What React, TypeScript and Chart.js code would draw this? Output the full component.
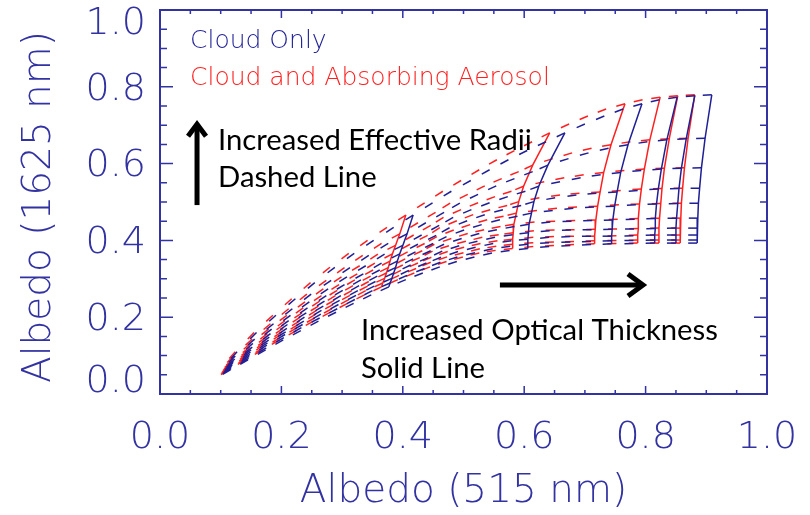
import React, { useEffect, useRef } from "react";
import { Chart, registerables } from "chart.js";

Chart.register(...registerables);

// Look-up table.
// Columns = optical thickness steps (index 0 = thinnest cloud),
// rows = effective radius steps (row 0 = smallest radius, top of each column).
const BLUE_X: number[][] = [
  [0.095, 0.127, 0.159, 0.191, 0.223, 0.255, 0.288, 0.32, 0.352, 0.385, 0.417, 0.449, 0.48, 0.512, 0.543, 0.574, 0.605, 0.636, 0.667, 0.7, 0.732, 0.763, 0.794, 0.823, 0.852, 0.881, 0.909],
  [0.093, 0.124, 0.156, 0.187, 0.218, 0.249, 0.282, 0.313, 0.344, 0.376, 0.407, 0.438, 0.468, 0.494, 0.524, 0.554, 0.584, 0.614, 0.639, 0.673, 0.706, 0.739, 0.771, 0.803, 0.835, 0.867, 0.898],
  [0.092, 0.123, 0.153, 0.184, 0.215, 0.246, 0.277, 0.308, 0.339, 0.37, 0.4, 0.431, 0.46, 0.483, 0.513, 0.543, 0.573, 0.602, 0.624, 0.659, 0.693, 0.726, 0.759, 0.793, 0.826, 0.859, 0.892],
  [0.091, 0.121, 0.152, 0.182, 0.212, 0.243, 0.274, 0.304, 0.335, 0.365, 0.395, 0.425, 0.455, 0.477, 0.506, 0.535, 0.565, 0.595, 0.616, 0.651, 0.686, 0.719, 0.753, 0.787, 0.821, 0.855, 0.889],
  [0.09, 0.12, 0.15, 0.18, 0.21, 0.241, 0.271, 0.301, 0.331, 0.362, 0.391, 0.421, 0.45, 0.472, 0.501, 0.53, 0.56, 0.589, 0.612, 0.647, 0.681, 0.715, 0.749, 0.784, 0.818, 0.853, 0.887],
  [0.089, 0.119, 0.149, 0.179, 0.209, 0.238, 0.269, 0.298, 0.328, 0.358, 0.388, 0.417, 0.446, 0.468, 0.497, 0.526, 0.555, 0.584, 0.608, 0.643, 0.678, 0.712, 0.746, 0.782, 0.816, 0.851, 0.886],
  [0.089, 0.118, 0.148, 0.177, 0.207, 0.237, 0.266, 0.296, 0.326, 0.355, 0.385, 0.413, 0.442, 0.465, 0.493, 0.523, 0.552, 0.581, 0.607, 0.642, 0.677, 0.711, 0.745, 0.781, 0.816, 0.85, 0.885],
  [0.088, 0.117, 0.147, 0.176, 0.206, 0.235, 0.265, 0.294, 0.323, 0.353, 0.382, 0.41, 0.439, 0.463, 0.491, 0.52, 0.549, 0.579, 0.606, 0.641, 0.676, 0.71, 0.744, 0.78, 0.815, 0.85, 0.885],
  [0.087, 0.117, 0.146, 0.175, 0.204, 0.233, 0.263, 0.292, 0.321, 0.35, 0.379, 0.407, 0.436, 0.462, 0.49, 0.519, 0.548, 0.577, 0.606, 0.641, 0.676, 0.71, 0.744, 0.78, 0.815, 0.85, 0.885],
  [0.087, 0.116, 0.145, 0.174, 0.203, 0.232, 0.261, 0.29, 0.319, 0.348, 0.377, 0.405, 0.433, 0.461, 0.489, 0.518, 0.547, 0.576, 0.606, 0.641, 0.676, 0.71, 0.744, 0.78, 0.815, 0.85, 0.885],
];

const BLUE_Y: number[][] = [
  [0.055, 0.11, 0.16, 0.205, 0.248, 0.29, 0.33, 0.366, 0.4, 0.434, 0.466, 0.498, 0.528, 0.556, 0.584, 0.61, 0.634, 0.657, 0.68, 0.703, 0.724, 0.742, 0.756, 0.766, 0.773, 0.777, 0.779],
  [0.05, 0.099, 0.143, 0.183, 0.222, 0.26, 0.296, 0.329, 0.361, 0.392, 0.417, 0.446, 0.473, 0.497, 0.52, 0.542, 0.561, 0.579, 0.596, 0.613, 0.628, 0.64, 0.649, 0.657, 0.662, 0.665, 0.666],
  [0.047, 0.091, 0.132, 0.169, 0.205, 0.24, 0.274, 0.305, 0.334, 0.364, 0.387, 0.414, 0.439, 0.46, 0.48, 0.498, 0.514, 0.528, 0.541, 0.553, 0.563, 0.571, 0.577, 0.582, 0.586, 0.588, 0.589],
  [0.045, 0.085, 0.122, 0.157, 0.191, 0.224, 0.256, 0.285, 0.313, 0.341, 0.365, 0.39, 0.413, 0.433, 0.451, 0.467, 0.48, 0.491, 0.501, 0.511, 0.518, 0.523, 0.526, 0.53, 0.534, 0.535, 0.536],
  [0.043, 0.08, 0.115, 0.148, 0.181, 0.211, 0.242, 0.27, 0.297, 0.323, 0.346, 0.37, 0.392, 0.41, 0.427, 0.441, 0.454, 0.463, 0.471, 0.478, 0.484, 0.487, 0.489, 0.493, 0.495, 0.496, 0.497],
  [0.041, 0.076, 0.109, 0.14, 0.171, 0.2, 0.229, 0.256, 0.282, 0.307, 0.329, 0.352, 0.373, 0.39, 0.405, 0.418, 0.428, 0.436, 0.442, 0.448, 0.45, 0.452, 0.453, 0.455, 0.457, 0.458, 0.458],
  [0.04, 0.072, 0.103, 0.133, 0.162, 0.19, 0.218, 0.244, 0.269, 0.293, 0.315, 0.336, 0.355, 0.372, 0.386, 0.398, 0.408, 0.415, 0.42, 0.425, 0.427, 0.428, 0.429, 0.43, 0.431, 0.432, 0.432],
  [0.038, 0.069, 0.098, 0.127, 0.155, 0.181, 0.208, 0.233, 0.257, 0.281, 0.301, 0.322, 0.341, 0.356, 0.371, 0.382, 0.392, 0.399, 0.403, 0.408, 0.41, 0.411, 0.411, 0.412, 0.414, 0.414, 0.414],
  [0.037, 0.066, 0.093, 0.12, 0.147, 0.173, 0.198, 0.222, 0.246, 0.269, 0.289, 0.309, 0.327, 0.343, 0.357, 0.368, 0.378, 0.385, 0.39, 0.394, 0.396, 0.397, 0.399, 0.4, 0.401, 0.401, 0.401],
  [0.036, 0.063, 0.089, 0.115, 0.141, 0.165, 0.19, 0.213, 0.236, 0.258, 0.279, 0.298, 0.315, 0.331, 0.345, 0.357, 0.367, 0.374, 0.379, 0.384, 0.387, 0.389, 0.391, 0.392, 0.393, 0.393, 0.393],
];

// Drop of the 515 nm albedo caused by the absorbing aerosol, per optical-thickness column.
const RED_DX: number[] = [0.002, 0.003, 0.004, 0.005, 0.006, 0.007, 0.008, 0.009, 0.01, 0.011, 0.012, 0.013, 0.014, 0.016, 0.017, 0.019, 0.021, 0.023, 0.025, 0.026, 0.027, 0.028, 0.028, 0.028, 0.028, 0.028, 0.028];

// Optical-thickness columns that are drawn as solid lines.
const SOLID_TAU_INDEX: number[] = [10, 18, 22, 24, 25, 26];

const TICK_VALUES: number[] = [0, 0.2, 0.4, 0.6, 0.8, 1.0];
const TICK_LABELS: string[] = ["0.0", "0.2", "0.4", "0.6", "0.8", "1.0"];
const X_TITLE = "Albedo (515 nm)";
const Y_TITLE = "Albedo (1625 nm)";
const LEGEND_LABELS: string[] = ["Cloud Only", "Cloud and Absorbing Aerosol"];
const NOTE_RADIUS: string[] = ["Increased Effective Radii", "Dashed Line"];
const NOTE_TAU: string[] = ["Increased Optical Thickness", "Solid Line"];

const BLUE = "#1f1f96";
const RED = "#ff1f1f";
const AXIS = "#3232a2";
const DASH = [9, 60];
const HERSHEY = '"DejaVu Sans", sans-serif';
const CALIBRI = 'Lato, "Open Sans", sans-serif';

type Pt = { x: number; y: number };

function buildGrid(shift: number[] | null): Pt[][] {
  return BLUE_X.map((row, r) => row.map((x, k) => ({ x: shift ? x - shift[k] : x, y: BLUE_Y[r][k] })));
}

function dashedSets(grid: Pt[][], color: string) {
  return grid.map((row) => ({
    data: [...row].reverse(),
    borderColor: color,
    borderWidth: 1.5,
    borderDash: DASH,
    borderCapStyle: "butt",
    pointRadius: 0,
    fill: false,
    tension: 0,
    segment: {
      borderDashOffset: (c: any) => (c.p0DataIndex % 2 ? 0.001 : 0),
    },
  }));
}

function solidSets(grid: Pt[][], color: string) {
  return SOLID_TAU_INDEX.map((k) => ({
    data: grid.map((row) => row[k]),
    borderColor: color,
    borderWidth: 1.5,
    pointRadius: 0,
    fill: false,
    tension: 0,
  }));
}

const decorPlugin = {
  id: "decor",
  afterDraw(chart: any) {
    const ctx: CanvasRenderingContext2D = chart.ctx;
    const xs = chart.scales.x;
    const ys = chart.scales.y;
    const L = xs.getPixelForValue(0);
    const R = xs.getPixelForValue(1);
    const T = ys.getPixelForValue(1);
    const B = ys.getPixelForValue(0);
    ctx.save();

    // frame
    ctx.strokeStyle = AXIS;
    ctx.lineWidth = 2;
    ctx.strokeRect(L, T, R - L, B - T);

    // inward ticks on all four sides
    ctx.lineWidth = 1.5;
    ctx.beginPath();
    for (let i = 1; i < 20; i++) {
      const v = i * 0.05;
      const major = i % 4 === 0;
      const px = xs.getPixelForValue(v);
      const py = ys.getPixelForValue(v);
      const lx = major ? 8 : 4;
      const ly = major ? 13 : 7;
      ctx.moveTo(px, B);
      ctx.lineTo(px, B - lx);
      ctx.moveTo(px, T);
      ctx.lineTo(px, T + lx);
      ctx.moveTo(L, py);
      ctx.lineTo(L + ly, py);
      ctx.moveTo(R, py);
      ctx.lineTo(R - ly, py);
    }
    ctx.stroke();

    // tick labels
    ctx.fillStyle = AXIS;
    ctx.font = `200 38px ${HERSHEY}`;
    ctx.textBaseline = "middle";
    TICK_VALUES.forEach((v, i) => {
      ctx.textAlign = "center";
      ctx.fillText(TICK_LABELS[i], xs.getPixelForValue(v), B + 44);
      ctx.textAlign = "right";
      const py = Math.min(Math.max(ys.getPixelForValue(v) + 3, T + 14), B - 12);
      ctx.fillText(TICK_LABELS[i], L - 14, py);
    });

    // axis titles
    ctx.font = `200 39px ${HERSHEY}`;
    ctx.textAlign = "center";
    ctx.fillText(X_TITLE, (L + R) / 2, B + 98);
    ctx.save();
    ctx.translate(L - 120, (T + B) / 2 + 5);
    ctx.rotate(-Math.PI / 2);
    ctx.fillText(Y_TITLE, 0, 0);
    ctx.restore();

    // legend
    ctx.font = `200 25px ${HERSHEY}`;
    ctx.textAlign = "left";
    ctx.fillStyle = BLUE;
    ctx.fillText(LEGEND_LABELS[0], L + 30, T + 31);
    ctx.fillStyle = RED;
    ctx.fillText(LEGEND_LABELS[1], L + 30, T + 68);

    // annotations (black, Calibri-like)
    ctx.fillStyle = "#000";
    ctx.font = `28px ${CALIBRI}`;
    const w = ctx.measureText(NOTE_TAU[0]).width;
    const size = (28 * 357) / w;
    ctx.font = `${size.toFixed(2)}px ${CALIBRI}`;
    const nx1 = xs.getPixelForValue(0.0956);
    ctx.fillText(NOTE_RADIUS[0], nx1, ys.getPixelForValue(0.661));
    ctx.fillText(NOTE_RADIUS[1], nx1, ys.getPixelForValue(0.563));
    const nx2 = xs.getPixelForValue(0.331);
    ctx.fillText(NOTE_TAU[0], nx2, ys.getPixelForValue(0.164));
    ctx.fillText(NOTE_TAU[1], nx2, ys.getPixelForValue(0.065));

    // arrows
    ctx.strokeStyle = "#000";
    ctx.lineWidth = 5;
    ctx.lineCap = "butt";
    ctx.lineJoin = "miter";
    const ax = xs.getPixelForValue(0.061);
    const ay0 = ys.getPixelForValue(0.492);
    const ay1 = ys.getPixelForValue(0.708);
    ctx.beginPath();
    ctx.moveTo(ax, ay0);
    ctx.lineTo(ax, ay1 + 2);
    ctx.stroke();
    ctx.beginPath();
    ctx.moveTo(ax - 9, ay1 + 14);
    ctx.lineTo(ax, ay1 + 2);
    ctx.lineTo(ax + 9, ay1 + 14);
    ctx.stroke();

    const by = ys.getPixelForValue(0.284);
    const bx0 = xs.getPixelForValue(0.56);
    const bx1 = xs.getPixelForValue(0.799);
    ctx.beginPath();
    ctx.moveTo(bx0, by);
    ctx.lineTo(bx1 - 2, by);
    ctx.stroke();
    ctx.beginPath();
    ctx.moveTo(bx1 - 17, by - 11);
    ctx.lineTo(bx1 - 2, by);
    ctx.lineTo(bx1 - 17, by + 11);
    ctx.stroke();

    ctx.restore();
  },
};

export default function App() {
  const canvasRef = useRef<HTMLCanvasElement | null>(null);

  useEffect(() => {
    document.body.style.margin = "0";
    const canvas = canvasRef.current;
    if (!canvas) return;
    const blueGrid = buildGrid(null);
    const redGrid = buildGrid(RED_DX);
    const datasets: any[] = [
      ...solidSets(blueGrid, BLUE),
      ...dashedSets(blueGrid, BLUE),
      ...solidSets(redGrid, RED),
      ...dashedSets(redGrid, RED),
    ];
    const chart = new Chart(canvas, {
      type: "line",
      data: { datasets },
      options: {
        animation: false,
        responsive: false,
        events: [],
        layout: { padding: { left: 160, right: 43, top: 10, bottom: 121 } },
        scales: {
          x: { type: "linear", min: 0, max: 1, display: false },
          y: { type: "linear", min: 0, max: 1, display: false },
        },
        plugins: {
          legend: { display: false },
          tooltip: { enabled: false },
        },
      },
      plugins: [decorPlugin],
    } as any);
    return () => chart.destroy();
  }, []);

  return (
    <div style={{ width: 810, height: 515, background: "#fff" }}>
      <canvas ref={canvasRef} width={810} height={515} />
    </div>
  );
}
